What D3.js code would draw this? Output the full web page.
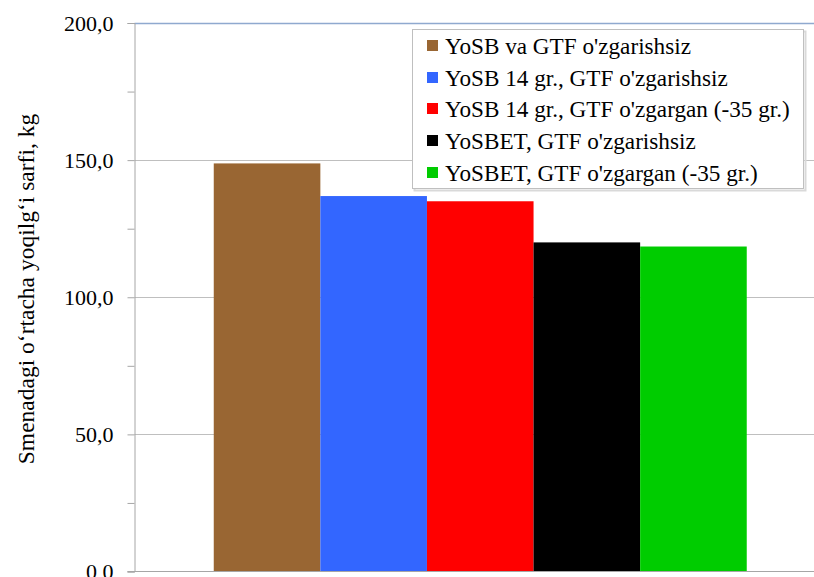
<!DOCTYPE html>
<html><head><meta charset="utf-8">
<script src="https://cdn.jsdelivr.net/npm/d3@7/dist/d3.min.js"></script>
<style>body{margin:0;background:#fff}svg{display:block}</style>
</head><body><svg id="c" width="814" height="577"></svg>
<script>
const categories = [""];
const seriesNames = ["YoSB va GTF o'zgarishsiz","YoSB 14 gr., GTF o'zgarishsiz","YoSB 14 gr., GTF o'zgargan (-35 gr.)","YoSBET, GTF o'zgarishsiz","YoSBET, GTF o'zgargan (-35 gr.)"];
const seriesValues = [148.8, 136.9, 135.0, 120.0, 118.5];
const seriesColors = ["#996633","#3366ff","#ff0000","#000000","#00cc00"];
const yTicks = [0,50,100,150,200];
const yMinorTicks = [25,75,125,175];
const yTitle = "Smenadagi oʻrtacha yoqilgʻi sarfi, kg";

const FONT = "'Liberation Serif', 'Times New Roman', 'DejaVu Serif', serif";
const svg = d3.select("#c");
const pL = 134.5, pR = 826, pT = 23, pB = 571.5;
const y = d3.scaleLinear().domain([0,200]).range([pB, pT]);
const x0 = d3.scaleBand().domain(categories).range([pL, pR]).paddingInner(0).paddingOuter(0.1487);
const x1 = d3.scaleBand().domain(seriesNames).range([0, x0.bandwidth()]).padding(0);

// gridlines
svg.append("g").selectAll("line").data(yTicks.filter(d=>d>0)).join("line")
  .attr("x1", pL).attr("x2", 814).attr("y1", d=>Math.round(y(d))+0.5).attr("y2", d=>Math.round(y(d))+0.5)
  .attr("stroke", d=> d===200 ? "#8fa9cf" : "#bfbfbf").attr("stroke-width", d=> d===200 ? 1.5 : 1);

// bars
svg.append("g").selectAll("rect").data(seriesNames).join("rect")
  .attr("x", d=>x0(categories[0]) + x1(d))
  .attr("width", x1.bandwidth())
  .attr("y", (d,i)=>y(seriesValues[i]))
  .attr("height", (d,i)=>y(0)-y(seriesValues[i]))
  .attr("fill", (d,i)=>seriesColors[i]);

// axes
const yAxis = d3.axisLeft(y).tickValues(yTicks).tickSize(7).tickPadding(14)
  .tickFormat(d=>d3.format(".1f")(d).replace(".", ","));
const ga = svg.append("g").attr("transform", `translate(${pL},0)`).call(yAxis)
  .attr("font-family", null).attr("font-size", null);
ga.select(".domain").attr("stroke","#a6a6a6");
ga.selectAll(".tick line").attr("stroke","#a6a6a6");
ga.selectAll(".tick text").style("font-family", FONT).style("font-size", "22px").attr("fill", "#000");
svg.append("g").attr("transform", `translate(${pL},0)`).call(d3.axisLeft(y).tickValues(yMinorTicks).tickSize(7).tickFormat(""))
  .call(g=>{g.select(".domain").remove(); g.selectAll("line").attr("stroke","#a6a6a6");});
svg.append("line").attr("x1", pL-7).attr("x2", 814).attr("y1", pB).attr("y2", pB).attr("stroke","#a6a6a6");

// y title
svg.append("text").attr("transform", `translate(26,289) rotate(-90)`)
  .attr("text-anchor","middle").attr("dominant-baseline","central")
  .style("font-family", FONT).style("font-size", "23.5px").text(yTitle);

// legend
const lg = svg.append("g");
lg.append("rect").attr("x", 414.5).attr("y", 31.5).attr("width", 391).attr("height", 159).attr("fill","none").attr("stroke","#d9d9d9").attr("stroke-width",2);
lg.append("rect").attr("x", 412.5).attr("y", 29.5).attr("width", 391).attr("height", 159).attr("fill","#fff").attr("stroke","#bfbfbf");
const rowY = [45, 77, 108, 140, 172];
const items = lg.selectAll("g.it").data(seriesNames).join("g").attr("class","it")
  .attr("transform", (d,i)=>`translate(427,${rowY[i]})`);
items.append("rect").attr("x",0).attr("y",-5).attr("width",11).attr("height",11).attr("fill",(d,i)=>seriesColors[i]);
items.append("text").attr("x", 18).attr("y", 1).attr("dominant-baseline","central")
  .style("font-family", FONT).style("font-size", "23.2px").text(d=>d);
</script></body></html>
